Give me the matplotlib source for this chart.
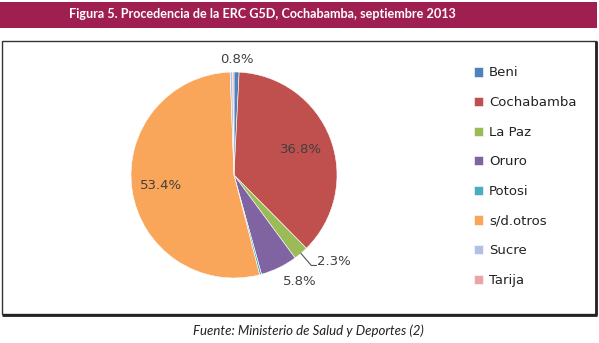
import matplotlib
matplotlib.use('Agg')
import matplotlib.pyplot as plt
import numpy as np
from matplotlib.patches import Rectangle

categories = ['Beni', 'Cochabamba', 'La Paz', 'Oruro', 'Potosi', 's/d.otros', 'Sucre', 'Tarija']
values = [0.8, 36.8, 2.3, 5.8, 0.3, 53.4, 0.4, 0.2]
shown_labels = ['0.8%', '36.8%', '2.3%', '5.8%', None, '53.4%', None, None]
colors = ['#4F81BD', '#C0504D', '#9BBB59', '#8064A2', '#4BACC6', '#F9A65A', '#B3BFE3', '#EBA3A8']
title = 'Figura 5. Procedencia de la ERC G5D, Cochabamba, septiembre 2013'
source = 'Fuente: Ministerio de Salud y Deportes (2)'

W, H = 599, 343
fig = plt.figure(figsize=(W / 100, H / 100), dpi=100)
bg = fig.add_axes([0, 0, 1, 1])
bg.set_xlim(0, W)
bg.set_ylim(H, 0)
bg.axis('off')

narrow = ['Lato', 'DejaVu Sans']
bg.add_patch(Rectangle((0, 1.5), 597, 26, color='#9E1F50', lw=0))
bg.text(262, 14.5, title, color='white', fontsize=9.1, fontweight='bold',
        ha='center', va='center', family=narrow)

bg.add_patch(Rectangle((1.5, 41), 594.5, 273, fill=False, ec='#333333', lw=1))
bg.plot([596, 596], [41, 315], color='#222222', lw=2, solid_capstyle='butt')
bg.plot([1.5, 597], [314.5, 314.5], color='#222222', lw=2, solid_capstyle='butt')
bg.text(308, 330.5, source, fontsize=9.5, style='italic', ha='center', va='center',
        color='#222222', family=narrow)

cx, cy, r = 234, 175, 103
ax = fig.add_axes([(cx - r) / W, (H - cy - r) / H, 2 * r / W, 2 * r / H])
wedges, _ = ax.pie(values, colors=colors, startangle=90, counterclock=False,
                   wedgeprops=dict(edgecolor='white', linewidth=0.4))
ax.set_xlim(-1, 1)
ax.set_ylim(-1, 1)

lab_color = '#404040'
fs = 9.5
inside_r = {1: 0.70, 5: 0.72}
for i, (w, lab) in enumerate(zip(wedges, shown_labels)):
    if lab is None:
        continue
    th = np.deg2rad((w.theta1 + w.theta2) / 2)
    dx, dy = np.cos(th), np.sin(th)
    if i in inside_r:
        rr = inside_r[i]
        ax.text(rr * dx, rr * dy, lab, ha='center', va='center', fontsize=fs, color=lab_color)
    elif i == 0:
        ax.text(1.08 * dx, 1.06 * dy, lab, ha='center', va='bottom', fontsize=fs, color=lab_color)
    elif i == 3:
        ax.text(1.08 * dx, 1.08 * dy, lab, ha='left', va='top', fontsize=fs, color=lab_color)
    elif i == 2:
        ex, ey = 1.155 * dx, 1.155 * dy
        ax.plot([dx, ex, ex + 0.05], [dy, ey, ey], color='#555555', lw=0.8, clip_on=False)
        ax.text(ex + 0.06, ey, lab, ha='left', va='baseline', fontsize=fs, color=lab_color)

ax.legend(wedges, categories, loc='upper left', bbox_to_anchor=(474 / W, 1 - 66.5 / H),
          bbox_transform=fig.transFigure, frameon=False, fontsize=fs,
          handlelength=0.7, handleheight=0.7, handletextpad=0.45, labelspacing=1.26,
          borderpad=0, borderaxespad=0, labelcolor='#222222')

fig.savefig('out.png', dpi=100)
